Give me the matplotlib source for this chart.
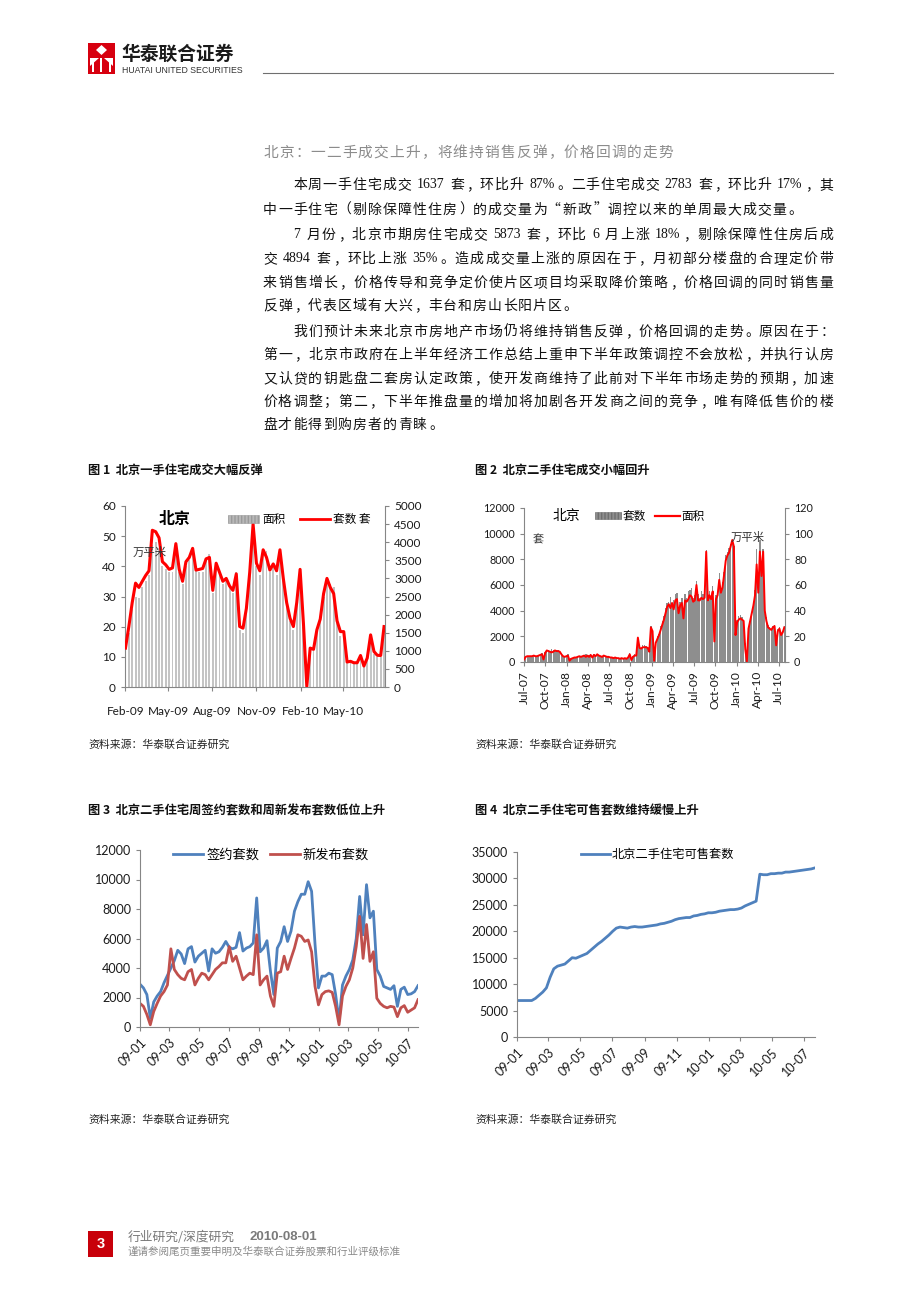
import re
import datetime as dt
import matplotlib
matplotlib.use('Agg')
import matplotlib.pyplot as plt
import matplotlib.dates as mdates
from matplotlib.patches import Patch, Rectangle, Polygon
from matplotlib.lines import Line2D

plt.rcParams['font.family'] = ['Noto Sans CJK SC', 'DejaVu Sans']
plt.rcParams['axes.unicode_minus'] = False

W, H = 920, 1302
NUM_FONT = ['Lato', 'Noto Sans CJK SC']
SERIF = ['Liberation Serif', 'Noto Sans CJK SC']
AXIS_GRAY = '#868686'

# ---- chart 1: 北京一手住宅 weekly, Feb-09 .. Jul-10 ----
c1_start = dt.date(2009, 2, 1)
c1_area = [  # 面积, 万平米 (left axis)
    12, 18, 26, 30, 29.5, 33, 35, 37, 47, 48, 46, 40, 39,
    38, 38, 44, 38, 34, 40, 42, 44, 40, 38, 38, 42, 44,
    31, 40, 37, 34, 36, 33, 31, 38, 19, 18, 25, 37, 50,
    40, 37, 44, 45, 38, 40, 37, 44, 35, 27, 22, 19, 28,
    37, 20, 1, 12, 12, 18, 22, 30, 35, 34, 33, 22, 17,
    17, 8, 8, 8, 8, 10, 7, 9, 16, 11, 10, 10, 19,
]
c1_units = [  # 套数, 套 (right axis)
    1075, 1670, 2330, 2870, 2750, 2920, 3080, 3210, 4330, 4290, 4120, 3460, 3375,
    3250, 3290, 3960, 3250, 2920, 3460, 3580, 3830, 3230, 3250, 3275, 3540, 3580,
    2670, 3420, 3170, 2920, 3000, 2790, 2670, 3125, 1670, 1625, 2170, 3170, 4500,
    3420, 3210, 3790, 3580, 3230, 3400, 3210, 3790, 3000, 2330, 1900, 1670, 2330,
    3250, 1750, 15, 1075, 1040, 1580, 1875, 2580, 3000, 2750, 2580, 1830, 1530,
    1530, 690, 710, 670, 670, 870, 580, 800, 1440, 980, 875, 870, 1670,
]

# ---- chart 2: 北京二手住宅 weekly, Jul-07 .. Aug-10 ----
c2_start = dt.date(2007, 7, 1)
c2_units = [  # 套数 (left axis)
    200, 400, 500, 450, 500, 480, 520, 500, 480, 550, 600, 700, 300,
    800, 950, 900, 800, 1000, 950, 900, 950, 900, 850, 700, 500, 450,
    500, 600, 100, 300, 350, 400, 400, 450, 500, 450, 500, 550, 600,
    500, 550, 600, 400, 600, 500, 650, 550, 500, 450, 550, 500, 450,
    450, 400, 400, 350, 400, 350, 300, 300, 350, 300, 350, 300, 400,
    700, 200, 500, 600, 550, 1800, 1200, 1100, 1300, 1300, 1250, 1200, 800,
    2800, 2500, 200, 1500, 2000, 2200, 2800, 3200, 3600, 4200, 4600, 4700, 5100,
    4500, 4800, 5300, 5400, 4200, 4700, 5000, 3800, 5300, 5000, 5500, 5600, 5800,
    5000, 5200, 6300, 5300, 5000, 5500, 5300, 5400, 8700, 5000, 5500, 5000, 5900,
    2000, 5200, 5400, 6900, 5600, 6200, 7000, 8300, 8600, 8900, 9200, 9600, 9000,
    2500, 3300, 3600, 3700, 3500, 3300, 1500, 300, 2600, 3200, 3800, 4500, 5600,
    8800, 5800, 9500, 7200, 8800, 4400, 3500, 2900, 2700, 2600, 2800, 2900, 1600,
    2600, 2700, 2200, 2400, 2800,
]
c2_area = [  # 面积, 万平米 (right axis)
    2, 4, 4.5, 4.5, 4.5, 4.5, 5, 4.5, 4.5, 5, 5.5, 6, 2,
    7, 9, 8.5, 8, 7.5, 8, 9, 8.5, 8.5, 8, 6, 4.5, 4,
    4.5, 5, 1, 2.5, 3, 3.5, 3.5, 4, 4.5, 4, 4.5, 5, 4,
    5, 4, 5.5, 3.5, 5.5, 4.5, 6, 5, 4.5, 4, 5, 4.5, 4,
    4, 3.5, 3.5, 3, 3.5, 3, 3, 2.5, 3, 2.5, 3, 2.5, 3.5,
    6, 1.5, 4, 5, 5, 19, 11, 10.5, 11.5, 11.5, 11.5, 11, 8,
    27, 24, 1, 15, 18, 21, 25, 29, 33, 38, 43, 45, 42,
    46, 41, 48, 49, 38, 44, 46, 34, 48, 47, 49, 52, 51,
    47, 48, 60, 48, 48, 50, 49, 50, 86, 48, 52, 49, 55,
    16, 49, 52, 64, 54, 58, 68, 79, 83, 85, 90, 95, 90,
    21, 31, 33, 34, 33, 32, 10, 0.5, 26, 32, 38, 44, 52,
    76, 54, 86, 67, 86, 40, 32, 27, 26, 25, 27, 28, 13,
    24, 26, 21, 23, 27,
]

# ---- chart 3 / 4: weekly from 2009-01 ----
c34_start = dt.date(2009, 1, 1)
c3_signed = [
    2900, 2650, 2200, 600, 1700, 2100, 2400, 3000, 3500, 4000, 4500, 5200, 4950,
    4300, 5300, 5450, 4400, 4800, 5000, 5200, 3800, 5300, 5000, 5100, 5400, 5800,
    5400, 5300, 5400, 6400, 5150, 5350, 5450, 5700, 8750, 5100, 5350, 5850, 3800,
    2200, 5350, 5800, 6800, 5800, 6500, 7850, 8500, 9000, 9000, 9850, 9200, 5600,
    2650, 3450, 3450, 3650, 3550, 2200, 400, 2850, 3450, 3900, 4550, 6000, 8850,
    6250, 9650, 7400, 7850, 3900, 3450, 2750, 2650, 2550, 2800, 1400, 2550, 2700,
    2200, 2250, 2400, 2800,
]
c3_new = [
    1600, 1400, 850, 150, 1050, 1600, 2100, 2400, 2850, 5300, 3900, 3550, 3300,
    3200, 3750, 3900, 2850, 3300, 3650, 3550, 3200, 3550, 3900, 4100, 4350, 4350,
    5450, 4450, 4800, 4000, 3200, 3450, 3650, 3550, 6250, 2850, 3200, 3450, 2100,
    1400, 3650, 3750, 4800, 3900, 4650, 5350, 6250, 6150, 5800, 5900, 5100, 2750,
    1500, 2200, 2400, 2450, 2350, 1400, 150, 2100, 2750, 3200, 4000, 5450, 7500,
    4650, 6950, 4450, 5100, 1950, 1600, 1400, 1300, 1400, 1350, 700, 1300, 1450,
    1000, 1150, 1300, 1850,
]
c4_stock = [
    6900, 6900, 6900, 6900, 6900, 7300, 7900, 8500, 9300, 11300, 12900, 13400, 13600,
    13800, 14400, 15000, 14900, 15200, 15500, 15800, 16400, 17000, 17600, 18100, 18700, 19300,
    20000, 20600, 20800, 20700, 20600, 20800, 20900, 20800, 20800, 20900, 21000, 21100, 21200,
    21400, 21500, 21700, 21900, 22200, 22400, 22500, 22600, 22600, 22900, 23000, 23200, 23300,
    23500, 23500, 23600, 23800, 23900, 24000, 24100, 24100, 24200, 24400, 24800, 25100, 25400,
    25700, 30800, 30700, 30700, 30900, 30900, 31000, 31000, 31200, 31200, 31300, 31400, 31500,
    31600, 31700, 31800, 32000,
]

body_lines = [
    ('本周一手住宅成交 1637 套，环比升 87%。二手住宅成交 2783 套，环比升 17%，其', True, True),
    ('中一手住宅（剔除保障性住房）的成交量为“新政”调控以来的单周最大成交量。', False, False),
    ('7 月份，北京市期房住宅成交 5873 套，环比 6 月上涨 18%，剔除保障性住房后成', True, True),
    ('交 4894 套，环比上涨 35%。造成成交量上涨的原因在于，月初部分楼盘的合理定价带', False, True),
    ('来销售增长，价格传导和竞争定价使片区项目均采取降价策略，价格回调的同时销售量', False, True),
    ('反弹，代表区域有大兴，丰台和房山长阳片区。', False, False),
    ('我们预计未来北京市房地产市场仍将维持销售反弹，价格回调的走势。原因在于：', True, True),
    ('第一，北京市政府在上半年经济工作总结上重申下半年政策调控不会放松，并执行认房', False, True),
    ('又认贷的钥匙盘二套房认定政策，使开发商维持了此前对下半年市场走势的预期，加速', False, True),
    ('价格调整；第二，下半年推盘量的增加将加剧各开发商之间的竞争，唯有降低售价的楼', False, True),
    ('盘才能得到购房者的青睐。', False, False),
]
body_y = [185, 210, 235, 259, 283, 306, 332, 355, 379, 402, 425]


def weekly(start, n):
    return [start + dt.timedelta(weeks=i) for i in range(n)]


def fx(x):
    return x / W


def fy(y):
    return 1 - y / H


fig = plt.figure(figsize=(W / 100, H / 100), dpi=100)
fig.patch.set_facecolor('white')
renderer = fig.canvas.get_renderer()

LEFT_PUNCT = '，。：；、）”'
RIGHT_PUNCT = '（“'


def draw_line(s, y, x0, x1=None, size=10, color='#111111'):
    toks = re.findall(r' |[0-9A-Za-z%./]+|\S', s)
    em = size * 100 / 72
    ws = []
    for t in toks:
        if t == ' ':
            ws.append(0.3 * em)
        elif t.isascii():
            tmp = fig.text(0, 0, t, fontsize=size, family=SERIF)
            ws.append(tmp.get_window_extent(renderer).width + 1)
            tmp.remove()
        else:
            ws.append(em)
    n_gaps = sum(1 for t in toks if t != ' ') - 1
    gap = 1.1 if x1 is None else (x1 - x0 - sum(ws)) / n_gaps
    x = x0
    for t, w in zip(toks, ws):
        if t == ' ':
            x += w
            continue
        if t.isascii():
            fig.text(fx(x + w / 2), fy(y), t, fontsize=size, family=SERIF,
                     color=color, ha='center', va='center')
        else:
            if t in LEFT_PUNCT:
                ha, xx = 'left', x + 1
            elif t in RIGHT_PUNCT:
                ha, xx = 'right', x + w - 1
            else:
                ha, xx = 'center', x + w / 2
            fig.text(fx(xx), fy(y), t, fontsize=size, color=color, ha=ha, va='center')
        x += w + gap


# ---- header ----
fig.add_artist(Rectangle((fx(88), fy(74)), 27 / W, 31 / H, transform=fig.transFigure,
                         facecolor='#d7000f', edgecolor='none'))
logo_white = [
    [(96, 50), (101.5, 45), (107, 50), (101.5, 55)],
    [(90, 58), (99, 58), (90, 66)],
    [(104, 58), (113, 58), (113, 66)],
    [(92, 62), (94, 62), (94, 72), (92, 72)],
    [(100.5, 58), (102.5, 58), (102.5, 72), (100.5, 72)],
    [(109, 62), (111, 62), (111, 72), (109, 72)],
]
for pts in logo_white:
    fig.add_artist(Polygon([(fx(a), fy(b)) for a, b in pts], closed=True,
                           transform=fig.transFigure, facecolor='white', edgecolor='none'))
fig.text(fx(121), fy(54), '华泰联合证券', fontsize=13.5, weight='bold', color='#1a1a1a',
         va='center')
fig.text(fx(122), fy(70.5), 'HUATAI UNITED SECURITIES', fontsize=6.3, color='#333333',
         family=['Liberation Sans', 'DejaVu Sans'], va='center')
fig.add_artist(Line2D([fx(263), fx(833)], [fy(73), fy(73)], color='#6f6f6f', lw=0.8))

# ---- section heading and paragraphs ----
draw_line('北京：一二手成交上升，将维持销售反弹，价格回调的走势', 153, 263, None,
          size=10.6, color='#8c8c8c')
for (txt, indent, justify), yy in zip(body_lines, body_y):
    x0 = 263 + (30 if indent else 0)
    draw_line(txt, yy, x0, 833 if justify else None)

# ---- chart captions / sources ----
cap_kw = dict(fontsize=8.8, weight='bold', color='#111111', va='center')
fig.text(fx(88), fy(470), '图 1  北京一手住宅成交大幅反弹', **cap_kw)
fig.text(fx(475), fy(470), '图 2  北京二手住宅成交小幅回升', **cap_kw)
fig.text(fx(88), fy(811), '图 3  北京二手住宅周签约套数和周新发布套数低位上升', **cap_kw)
fig.text(fx(475), fy(811), '图 4  北京二手住宅可售套数维持缓慢上升', **cap_kw)
src_kw = dict(fontsize=7.8, style='italic', color='#222222', va='center')
for sx, sy in [(88, 745), (475, 745), (88, 1120), (475, 1120)]:
    fig.text(fx(sx), fy(sy), '资料来源：华泰联合证券研究', **src_kw)


def base_style(ax, size):
    for side in ['top', 'right']:
        ax.spines[side].set_visible(False)
    for side in ['left', 'bottom']:
        ax.spines[side].set_color(AXIS_GRAY)
        ax.spines[side].set_linewidth(0.8)
    ax.tick_params(colors=AXIS_GRAY, length=3, width=0.8, labelcolor='#1a1a1a',
                   labelsize=size)
    for lab in ax.get_yticklabels() + ax.get_xticklabels():
        lab.set_family(NUM_FONT)
    ax.set_facecolor('none')


# ---- chart 1 ----
d1 = weekly(c1_start, len(c1_area))
ax1 = fig.add_axes([fx(125), fy(687), 260 / W, 181 / H])
ax1.bar(d1, c1_area, width=4, color='#c4c4c4', edgecolor='none')
ax1.set_ylim(0, 60)
ax1.set_yticks(range(0, 61, 10))
ax1.set_xlim(d1[0] - dt.timedelta(days=1), d1[-1] + dt.timedelta(days=2))
ax1.xaxis.set_major_locator(mdates.MonthLocator(bymonth=[2, 5, 8, 11]))
ax1.xaxis.set_major_formatter(mdates.DateFormatter('%b-%y'))
ax1r = ax1.twinx()
ax1r.plot(d1, c1_units, color='#ff0000', lw=2.2)
ax1r.set_ylim(0, 5000)
ax1r.set_yticks(range(0, 5001, 500))
base_style(ax1, 8.5)
ax1.tick_params(axis='x', pad=11)
for side in ['top', 'left', 'bottom']:
    ax1r.spines[side].set_visible(False)
ax1r.spines['right'].set_color(AXIS_GRAY)
ax1r.spines['right'].set_linewidth(0.8)
ax1r.tick_params(colors=AXIS_GRAY, length=3, width=0.8, labelcolor='#1a1a1a', labelsize=8.5)
for lab in ax1r.get_yticklabels():
    lab.set_family(NUM_FONT)
ax1r.text(0.13, 0.93, '北京', transform=ax1r.transAxes, fontsize=11.5, weight='bold',
          ha='left', va='center')
ax1r.text(0.03, 0.745, '万平米', transform=ax1r.transAxes, fontsize=8.2, color='#333333',
          ha='left', va='center')
ax1r.legend(handles=[Patch(facecolor='#b8b8b8', edgecolor='#9a9a9a', hatch='|||||', lw=0.4),
                     Line2D([], [], color='#ff0000', lw=2)],
            labels=['面积', '套数 套'], ncol=2, frameon=False, fontsize=8.4,
            loc='center left', bbox_to_anchor=(0.38, 0.925), handlelength=2.6,
            handleheight=0.6, handletextpad=0.3, columnspacing=1.2, borderaxespad=0)

# ---- chart 2 ----
d2 = weekly(c2_start, len(c2_units))
ax2 = fig.add_axes([fx(524), fy(662), 261 / W, 154 / H])
ax2.bar(d2, c2_units, width=6, color='#8e8e8e', edgecolor='none')
ax2.set_ylim(0, 12000)
ax2.set_yticks(range(0, 12001, 2000))
ax2.set_xlim(d2[0], d2[-1] + dt.timedelta(days=3))
ax2.xaxis.set_major_locator(mdates.MonthLocator(bymonth=[1, 4, 7, 10]))
ax2.xaxis.set_major_formatter(mdates.DateFormatter('%b-%y'))
ax2r = ax2.twinx()
ax2r.plot(d2, c2_area, color='#ff0000', lw=1.4)
ax2r.set_ylim(0, 120)
ax2r.set_yticks(range(0, 121, 20))
base_style(ax2, 7.8)
ax2.tick_params(axis='x', labelsize=8.6)
for lab in ax2.get_xticklabels():
    lab.set_rotation(90)
for side in ['top', 'left', 'bottom']:
    ax2r.spines[side].set_visible(False)
ax2r.spines['right'].set_color(AXIS_GRAY)
ax2r.spines['right'].set_linewidth(0.8)
ax2r.tick_params(colors=AXIS_GRAY, length=3, width=0.8, labelcolor='#1a1a1a', labelsize=7.8)
for lab in ax2r.get_yticklabels():
    lab.set_family(NUM_FONT)
ax2r.text(0.11, 0.948, '北京', transform=ax2r.transAxes, fontsize=10, ha='left', va='center')
ax2r.text(0.035, 0.79, '套', transform=ax2r.transAxes, fontsize=8, color='#333333',
          ha='left', va='center')
ax2r.text(0.855, 0.81, '万平米', transform=ax2r.transAxes, fontsize=8.2, color='#333333',
          ha='center', va='center')
ax2r.legend(handles=[Patch(facecolor='#8e8e8e', edgecolor='#6e6e6e', hatch='|||||', lw=0.4),
                     Line2D([], [], color='#ff0000', lw=1.6)],
            labels=['套数', '面积'], ncol=2, frameon=False, fontsize=8.4,
            loc='center left', bbox_to_anchor=(0.255, 0.948), handlelength=2.2,
            handleheight=0.6, handletextpad=0.1, columnspacing=0.8, borderaxespad=0)

# ---- chart 3 ----
d34 = weekly(c34_start, len(c3_signed))
ax3 = fig.add_axes([fx(140), fy(1027), 278 / W, 177 / H])
ax3.plot(d34, c3_signed, color='#4f81bd', lw=2.0, label='签约套数')
ax3.plot(d34, c3_new, color='#c0504d', lw=2.0, label='新发布套数')
ax3.set_ylim(0, 12000)
ax3.set_yticks(range(0, 12001, 2000))
ax3.set_xlim(d34[0], d34[-1])
ax3.xaxis.set_major_locator(mdates.MonthLocator(bymonth=[1, 3, 5, 7, 9, 11]))
ax3.xaxis.set_major_formatter(mdates.DateFormatter('%y-%m'))
base_style(ax3, 9)
for lab in ax3.get_xticklabels():
    lab.set_rotation(45)
    lab.set_ha('right')
    lab.set_rotation_mode('anchor')
ax3.legend(ncol=2, frameon=False, fontsize=9.5, loc='center left',
           bbox_to_anchor=(0.1, 0.97), handlelength=2.3, handletextpad=0.2,
           columnspacing=0.8, borderaxespad=0)

# ---- chart 4 ----
d4 = weekly(c34_start, len(c4_stock))
ax4 = fig.add_axes([fx(517), fy(1037), 298 / W, 185 / H])
ax4.plot(d4, c4_stock, color='#4f81bd', lw=2.0, label='北京二手住宅可售套数')
ax4.set_ylim(0, 35000)
ax4.set_yticks(range(0, 35001, 5000))
ax4.set_xlim(d4[0], d4[-1])
ax4.xaxis.set_major_locator(mdates.MonthLocator(bymonth=[1, 3, 5, 7, 9, 11]))
ax4.xaxis.set_major_formatter(mdates.DateFormatter('%y-%m'))
base_style(ax4, 9)
for lab in ax4.get_xticklabels():
    lab.set_rotation(45)
    lab.set_ha('right')
    lab.set_rotation_mode('anchor')
ax4.legend(frameon=False, fontsize=8.8, loc='center left', bbox_to_anchor=(0.2, 0.985),
           handlelength=2.3, handletextpad=0.2, borderaxespad=0)

# ---- footer ----
fig.add_artist(Rectangle((fx(88), fy(1257)), 25 / W, 26 / H, transform=fig.transFigure,
                         facecolor='#c8000a', edgecolor='none'))
fig.text(fx(100.5), fy(1244), '3', fontsize=10.5, weight='bold', color='white',
         ha='center', va='center', family=['Liberation Sans', 'DejaVu Sans'])
fig.text(fx(128), fy(1237), '行业研究/深度研究', fontsize=9.2, color='#7a7a7a', va='center')
fig.text(fx(250), fy(1237), '2010-08-01', fontsize=9.5, weight='bold', color='#7a7a7a',
         va='center', family=['Liberation Sans', 'DejaVu Sans'])
fig.text(fx(128), fy(1252), '谨请参阅尾页重要申明及华泰联合证券股票和行业评级标准',
         fontsize=7.6, color='#8a8a8a', va='center')

fig.savefig('out.png', dpi=100, facecolor='white')
